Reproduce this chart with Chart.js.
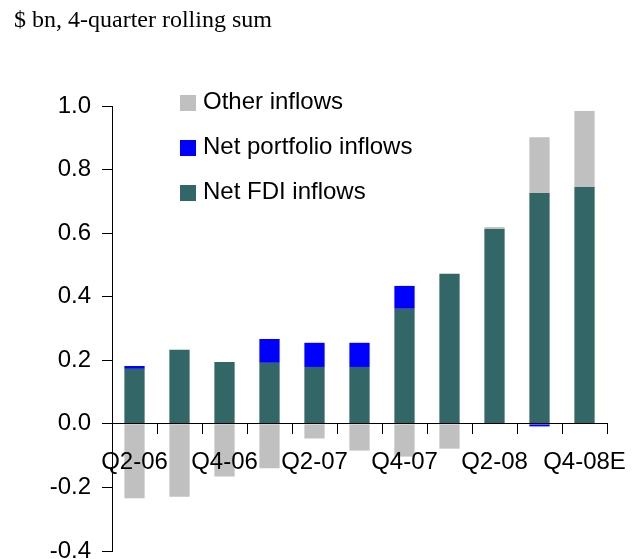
<!DOCTYPE html>
<html>
<head>
<meta charset="utf-8">
<script src="https://cdn.jsdelivr.net/npm/chart.js@4/dist/chart.umd.min.js"></script>
<style>
    html, body { margin: 0; padding: 0; background: #fff; overflow: hidden; }
    #wrap { width: 642px; height: 580px; }
</style>
</head>
<body>
<div id="wrap"><canvas id="flowChart" width="642" height="580"></canvas></div>
<script>
// quarters (4-quarter rolling sums)
const quarters = ['Q2-06', 'Q3-06', 'Q4-06', 'Q1-07', 'Q2-07', 'Q3-07', 'Q4-07', 'Q1-08', 'Q2-08', 'Q3-08', 'Q4-08E'];
const fdiInflows = [0.173, 0.233, 0.195, 0.192, 0.179, 0.179, 0.362, 0.472, 0.613, 0.726, 0.745];
const portfolioInflows = [0.009, 0, 0, 0.075, 0.076, 0.076, 0.072, 0, 0, -0.008, 0];
const otherInflows = [-0.234, -0.229, -0.166, -0.140, -0.046, -0.084, -0.103, -0.078, 0.006, 0.176, 0.239];
const yTicks = [-0.4, -0.2, 0.0, 0.2, 0.4, 0.6, 0.8, 1.0];

const titleText = '$ bn, 4-quarter rolling sum';
const sansFont = "'Liberation Sans', Arial, sans-serif";

// title on top-left, outside the plot
const titlePlugin = {
    id: 'topTitle',
    afterDraw(chart) {
        const ctx = chart.ctx;
        ctx.save();
        ctx.fillStyle = '#000';
        ctx.font = "24px 'Liberation Serif', 'Times New Roman', serif";
        ctx.textAlign = 'left';
        ctx.textBaseline = 'alphabetic';
        ctx.fillText(titleText, 14, 27);
        ctx.restore();
    }
};

// legend inside the plot, reversed order, stacked vertically
const innerLegend = {
    id: 'innerLegend',
    afterDraw(chart) {
        const ctx = chart.ctx;
        const sets = chart.data.datasets.slice().reverse();
        ctx.save();
        ctx.font = '24px ' + sansFont;
        ctx.textAlign = 'left';
        ctx.textBaseline = 'middle';
        sets.forEach((ds, i) => {
            const top = 95 + i * 45;
            ctx.fillStyle = ds.backgroundColor;
            ctx.fillRect(180, top, 16, 16);
            ctx.fillStyle = '#000';
            ctx.fillText(ds.label, 203, top + 7);
        });
        ctx.restore();
    }
};

new Chart(document.getElementById('flowChart'), {
    type: 'bar',
    data: {
        labels: quarters,
        datasets: [
            { label: 'Net FDI inflows', data: fdiInflows, backgroundColor: '#336666' },
            { label: 'Net portfolio inflows', data: portfolioInflows, backgroundColor: '#0000ff' },
            { label: 'Other inflows', data: otherInflows, backgroundColor: '#c0c0c0' }
        ]
    },
    options: {
        responsive: false,
        animation: false,
        layout: { padding: { top: 106, right: 35, bottom: 29, left: 0 } },
        datasets: {
            bar: { barPercentage: 0.45, categoryPercentage: 1.0 }
        },
        plugins: {
            legend: { display: false },
            title: { display: false },
            tooltip: { enabled: false }
        },
        scales: {
            x: {
                stacked: true,
                position: { y: 0 },
                offset: true,
                grid: {
                    offset: true,
                    drawOnChartArea: false,
                    drawTicks: true,
                    tickLength: 10,
                    color: '#000'
                },
                border: { display: true, color: '#000', width: 1, z: 1 },
                ticks: {
                    z: 1, // labels sit on top of the grey bars
                    autoSkip: false,
                    maxRotation: 0,
                    padding: 14,
                    color: '#000',
                    font: { family: sansFont, size: 24 },
                    callback: (v, i) => (i % 2 === 0 ? quarters[i] : '')
                }
            },
            y: {
                stacked: true,
                min: -0.4,
                max: 1.0,
                afterBuildTicks: (scale) => {
                    scale.ticks = yTicks.map(v => ({ value: v }));
                },
                afterFit: (scale) => {
                    scale.width = 112;
                    scale.paddingTop = 0;
                    scale.paddingBottom = 0;
                },
                grid: {
                    drawOnChartArea: false,
                    drawTicks: true,
                    tickLength: 10,
                    color: '#000'
                },
                border: { display: true, color: '#000', width: 1 },
                ticks: {
                    padding: 11,
                    color: '#000',
                    font: { family: sansFont, size: 24 },
                    callback: (v) => Number(v).toFixed(1)
                }
            }
        }
    },
    plugins: [titlePlugin, innerLegend]
});
</script>
</body>
</html>
